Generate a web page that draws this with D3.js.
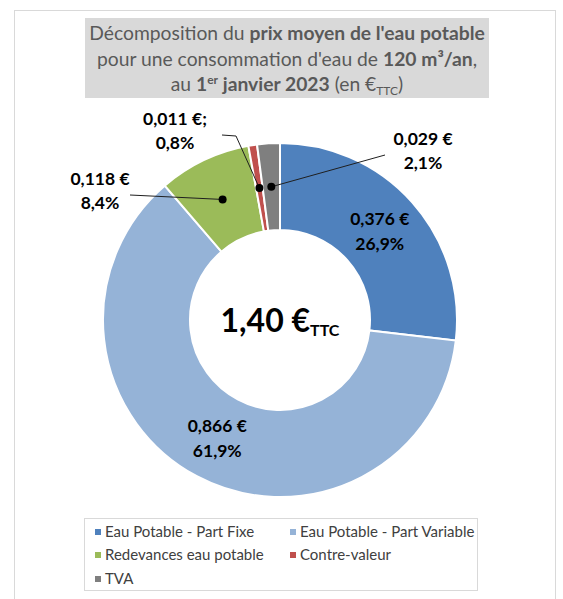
<!DOCTYPE html>
<html>
<head>
<meta charset="utf-8">
<script src="https://cdn.jsdelivr.net/npm/d3@7"></script>
<style>
  body { margin: 0; background: #fff; }
  svg { font-family: Lato, "Open Sans", sans-serif; }
</style>
</head>
<body>
<div id="chart"></div>
<script>
// data
const categories = ['Eau Potable - Part Fixe', 'Eau Potable - Part Variable', 'Redevances eau potable', 'Contre-valeur', 'TVA'];
const values = [0.376, 0.866, 0.118, 0.011, 0.029];
const valueLabels = ['0,376 €', '0,866 €', '0,118 €', '0,011 €;', '0,029 €'];
const pctLabels = ['26,9%', '61,9%', '8,4%', '0,8%', '2,1%'];
const colors = ['#4f81bd', '#95b3d7', '#9bbb59', '#c0504d', '#7f7f7f'];
const totalLabel = '1,40 €';

const W = 563, H = 599;
const cx = 280, cy = 320;
const outerR = 177, innerR = 90;

const svg = d3.select('#chart').append('svg')
    .attr('width', W)
    .attr('height', H);

// frame of the chart area
svg.append('rect')
    .attr('x', 14.5).attr('y', 10.5)
    .attr('width', 541).attr('height', 600)
    .attr('fill', '#fff')
    .attr('stroke', '#d9d9d9');

// title box
svg.append('rect')
    .attr('x', 85).attr('y', 18)
    .attr('width', 404).attr('height', 80)
    .attr('fill', '#d9d9d9');

const title = svg.append('text')
    .attr('text-anchor', 'middle')
    .style('font-size', '19.3px')
    .style('fill', '#595959');

let t1 = title.append('tspan').attr('x', 287).attr('y', 40);
t1.append('tspan').text('Décomposition du ');
t1.append('tspan').style('font-weight', 'bold').text("prix moyen de l'eau potable");

let t2 = title.append('tspan').attr('x', 287).attr('y', 66);
t2.append('tspan').text("pour une consommation d'eau de ");
t2.append('tspan').style('font-weight', 'bold').text('120 m³/an');
t2.append('tspan').text(',');

let t3 = title.append('tspan').attr('x', 287).attr('y', 91);
t3.append('tspan').text('au ');
t3.append('tspan').style('font-weight', 'bold').text('1');
t3.append('tspan').style('font-weight', 'bold').style('font-size', '12px').attr('dy', -7).text('er');
t3.append('tspan').style('font-weight', 'bold').attr('dy', 7).text(' janvier 2023');
t3.append('tspan').text(' (en €');
t3.append('tspan').style('font-size', '12px').attr('dy', 4).text('TTC');
t3.append('tspan').attr('dy', -4).text(')');

// donut
const pie = d3.pie().sort(null).value(d => d)(values);
const arc = d3.arc().innerRadius(innerR).outerRadius(outerR);

const g = svg.append('g').attr('transform', `translate(${cx},${cy})`);

g.selectAll('path.slice')
    .data(pie)
    .enter().append('path')
    .attr('class', 'slice')
    .attr('d', arc)
    .attr('fill', (d, i) => colors[i])
    .attr('stroke', '#fff')
    .attr('stroke-width', 2);

// centre text
const ct = g.append('text')
    .attr('text-anchor', 'middle')
    .attr('y', 12)
    .style('font-weight', 'bold')
    .style('font-size', '32px')
    .style('fill', '#000');
ct.append('tspan').text(totalLabel);
ct.append('tspan').style('font-size', '16px').attr('dy', 4).text('TTC');

// labels inside the two big slices
[0, 1].forEach(i => {
    const [x, y] = arc.centroid(pie[i]);
    const lab = g.append('text')
        .attr('text-anchor', 'middle')
        .style('font-weight', 'bold')
        .style('font-size', '17.5px')
        .style('fill', '#000');
    lab.append('tspan').attr('x', x).attr('y', y - 6).text(valueLabels[i]);
    lab.append('tspan').attr('x', x).attr('y', y + 19).text(pctLabels[i]);
});

// callout labels for the thin slices: label position and leader path (relative to centre)
const callouts = [
    { i: 2, lx: -180, ly: -135, pts: [[-150, -125]] },
    { i: 3, lx: -105, ly: -195, pts: [[-58, -185], [-44, -184]] },
    { i: 4, lx: 143, ly: -175, pts: [[105, -165]] }
];

callouts.forEach(c => {
    const [x, y] = arc.centroid(pie[c.i]);
    const line = c.pts.concat([[x, y]]);
    g.append('path')
        .attr('d', d3.line()(line))
        .attr('fill', 'none')
        .attr('stroke', '#1f1f1f')
        .attr('stroke-width', 1);
    g.append('circle')
        .attr('cx', x).attr('cy', y)
        .attr('r', 4)
        .attr('fill', '#000');
    const lab = g.append('text')
        .attr('text-anchor', 'middle')
        .style('font-weight', 'bold')
        .style('font-size', '17.5px')
        .style('fill', '#000');
    lab.append('tspan').attr('x', c.lx).attr('y', c.ly).text(valueLabels[c.i]);
    lab.append('tspan').attr('x', c.lx).attr('y', c.ly + 24).text(pctLabels[c.i]);
});

// legend
svg.append('rect')
    .attr('x', 84.5).attr('y', 518.5)
    .attr('width', 393).attr('height', 72)
    .attr('fill', '#fff')
    .attr('stroke', '#d9d9d9');

const legendPos = [[95, 532], [290, 532], [95, 555], [290, 555], [95, 579]];
const leg = svg.selectAll('g.leg')
    .data(categories)
    .enter().append('g')
    .attr('class', 'leg')
    .attr('transform', (d, i) => `translate(${legendPos[i][0]},${legendPos[i][1]})`);

leg.append('rect')
    .attr('x', 0).attr('y', -3)
    .attr('width', 6).attr('height', 6)
    .attr('fill', (d, i) => colors[i]);

leg.append('text')
    .attr('x', 10).attr('y', 5)
    .style('font-size', '15px')
    .style('fill', '#404040')
    .text(d => d);
</script>
</body>
</html>
